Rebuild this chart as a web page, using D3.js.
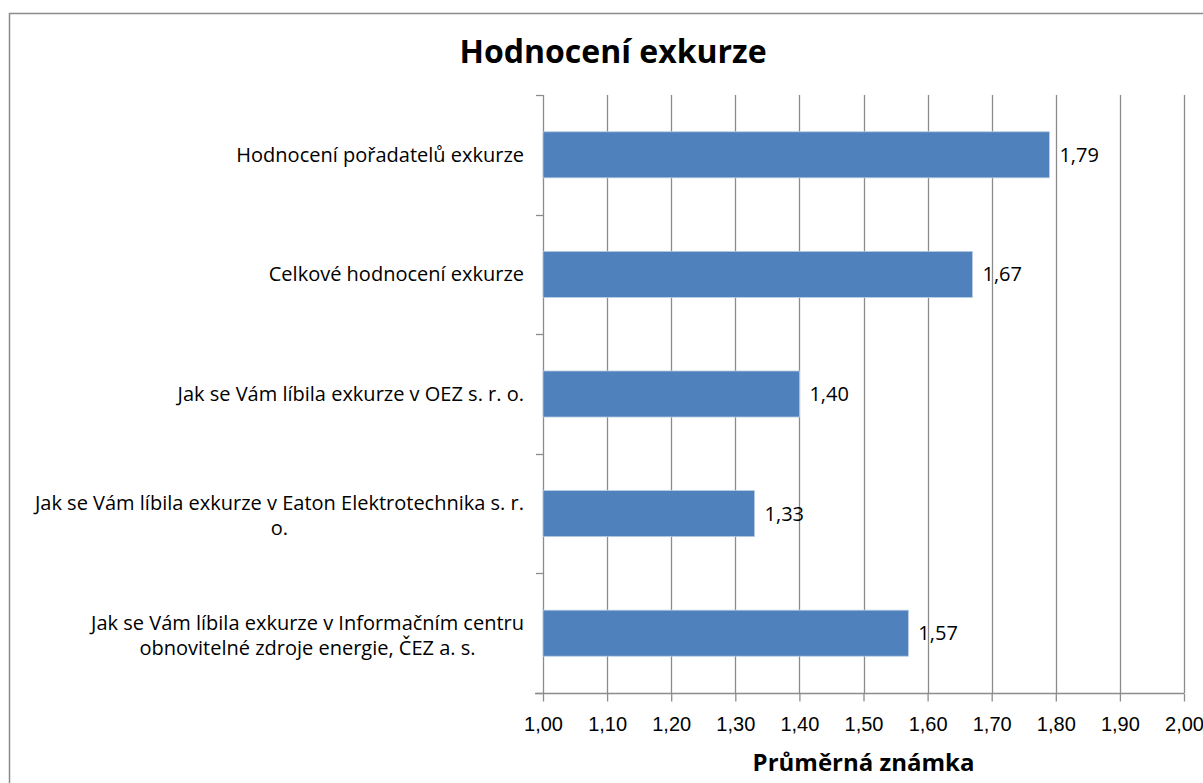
<!DOCTYPE html>
<html>
<head>
<meta charset="utf-8">
<script src="https://cdn.jsdelivr.net/npm/d3@7"></script>
<style>
  html, body { margin: 0; padding: 0; background: #fff; overflow: hidden; }
  svg { display: block; font-family: "Open Sans", "Noto Sans", "Liberation Sans", sans-serif; }
</style>
</head>
<body>
<div id="chart"></div>
<script>
// data
const categories = [
  ["Hodnocení pořadatelů exkurze"],
  ["Celkové hodnocení exkurze"],
  ["Jak se Vám líbila exkurze v OEZ s. r. o."],
  ["Jak se Vám líbila exkurze v Eaton Elektrotechnika s. r.", "o."],
  ["Jak se Vám líbila exkurze v Informačním centru", "obnovitelné zdroje energie, ČEZ a. s."]
];
const values = [1.79, 1.67, 1.40, 1.33, 1.57];
const xTicks = [1.0, 1.1, 1.2, 1.3, 1.4, 1.5, 1.6, 1.7, 1.8, 1.9, 2.0];
const title = "Hodnocení exkurze";
const xTitle = "Průměrná známka";

(function () {
  const W = 1203, H = 783;
  const m = { left: 543, right: 1184, top: 95, bottom: 693 };
  const fmt = v => v.toFixed(2).replace(".", ",");
  const fs = 20;

  const svg = d3.select("#chart").append("svg").attr("width", W).attr("height", H);

  // outer chart border (right/bottom run off the picture)
  svg.append("rect").attr("x", 9.5).attr("y", 13.5).attr("width", 1220).attr("height", 800)
    .attr("fill", "#fff").attr("stroke", "#8c8c8c").attr("stroke-width", 1.5);

  const x = d3.scaleLinear().domain([1, 2]).range([m.left, m.right]);
  const y = d3.scaleBand().domain(d3.range(categories.length)).range([m.top, m.bottom]).paddingInner(0.615).paddingOuter(0.3075);

  // vertical gridlines
  svg.append("g").selectAll("line").data(xTicks.slice(1)).join("line")
    .attr("x1", d => Math.round(x(d)) + 0.5).attr("x2", d => Math.round(x(d)) + 0.5)
    .attr("y1", m.top).attr("y2", m.bottom)
    .attr("stroke", "#8c8c8c").attr("stroke-width", 1.3);

  // x axis
  const gx = svg.append("g").attr("transform", `translate(0,${m.bottom + 0.5})`)
    .call(d3.axisBottom(x).tickValues(xTicks).tickFormat(fmt).tickSizeInner(8).tickSizeOuter(0).tickPadding(15));
  gx.select(".domain").attr("stroke", "#8c8c8c").attr("stroke-width", 1.3).attr("d", `M${m.left - 8},0H${m.right}`);
  gx.selectAll(".tick line").attr("stroke", "#8c8c8c").attr("stroke-width", 1.3);
  gx.selectAll(".tick text").attr("font-size", fs).attr("fill", "#000").attr("font-family", null);

  // y axis: line with tick marks between categories
  const ya = svg.append("g");
  ya.append("line").attr("x1", m.left + 0.5).attr("x2", m.left + 0.5).attr("y1", m.top).attr("y2", m.bottom)
    .attr("stroke", "#8c8c8c").attr("stroke-width", 1.3);
  const step = (m.bottom - m.top) / categories.length;
  ya.selectAll("line.t").data(d3.range(categories.length + 1)).join("line").attr("class", "t")
    .attr("x1", m.left - 7).attr("x2", m.left)
    .attr("y1", d => Math.round(m.top + d * step) + 0.5).attr("y2", d => Math.round(m.top + d * step) + 0.5)
    .attr("stroke", "#8c8c8c").attr("stroke-width", 1.3);

  // bars
  svg.append("g").selectAll("rect").data(values).join("rect")
    .attr("x", x(1)).attr("y", (d, i) => y(i))
    .attr("width", d => x(d) - x(1)).attr("height", y.bandwidth())
    .attr("fill", "#4f81bd").attr("stroke", "#b9cde5").attr("stroke-width", 0.8);

  // value labels
  svg.append("g").selectAll("text").data(values).join("text")
    .attr("x", d => x(d) + 10).attr("y", (d, i) => y(i) + y.bandwidth() / 2)
    .attr("dy", "0.35em").attr("font-size", fs).attr("fill", "#000")
    .text(fmt);

  // category labels: block right edge at 524, lines centered in the block
  const lineH = 25;
  categories.forEach((lines, i) => {
    const cy = y(i) + y.bandwidth() / 2 + (lines.length > 1 ? 2 : 0);
    const g = svg.append("g");
    const texts = lines.map((t, j) => g.append("text")
      .attr("font-size", fs).attr("fill", "#000")
      .attr("y", cy + (j - (lines.length - 1) / 2) * lineH).attr("dy", "0.35em")
      .attr("text-anchor", "middle").text(t));
    const wMax = d3.max(texts, t => t.node().getComputedTextLength());
    texts.forEach(t => t.attr("x", 524 - wMax / 2));
  });

  // titles
  svg.append("text").attr("x", 613).attr("y", 52).attr("dy", "0.35em")
    .attr("text-anchor", "middle").attr("font-size", 32).attr("font-weight", "bold").text(title);
  svg.append("text").attr("x", (m.left + m.right) / 2).attr("y", 763).attr("dy", "0.35em")
    .attr("text-anchor", "middle").attr("font-size", 24).attr("font-weight", "bold").text(xTitle);
})();
</script>
</body>
</html>
